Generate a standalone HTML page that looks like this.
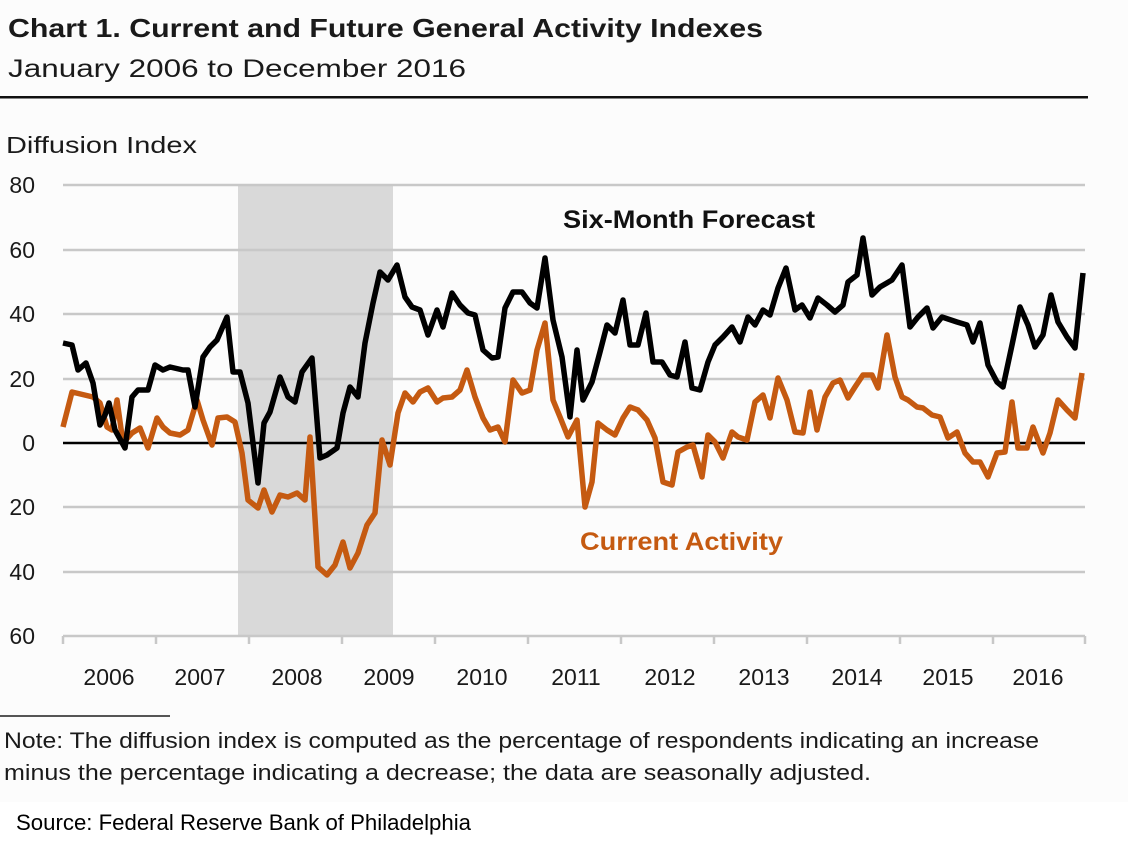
<!DOCTYPE html>
<html><head><meta charset="utf-8"><style>
html,body{margin:0;padding:0;background:#fff;}
svg{display:block;font-family:"Liberation Sans",Arial,sans-serif;}
</style></head><body>
<svg width="1143" height="853" viewBox="0 0 1143 853" xmlns="http://www.w3.org/2000/svg">
<rect x="0" y="0" width="1128" height="802" fill="#fcfcfc"/>
<text x="8" y="37" font-size="26" font-weight="bold" fill="#1a1a1a" textLength="755" lengthAdjust="spacingAndGlyphs">Chart 1. Current and Future General Activity Indexes</text>
<text x="8" y="77" font-size="25" fill="#1a1a1a" textLength="458" lengthAdjust="spacingAndGlyphs">January 2006 to December 2016</text>
<rect x="0" y="96" width="1088" height="2.5" fill="#111"/>
<text x="6" y="153" font-size="23" fill="#1a1a1a" textLength="191" lengthAdjust="spacingAndGlyphs">Diffusion Index</text>
<rect x="238" y="185" width="155" height="451" fill="#d9d9d9"/>
<g stroke="#c8c8c8" stroke-width="2.5">
<line x1="63" y1="185" x2="1085" y2="185"/><line x1="63" y1="250" x2="1085" y2="250"/>
<line x1="63" y1="314" x2="1085" y2="314"/><line x1="63" y1="379" x2="1085" y2="379"/>
<line x1="63" y1="507" x2="1085" y2="507"/><line x1="63" y1="572" x2="1085" y2="572"/>
<line x1="63" y1="636" x2="1085" y2="636"/>
<line x1="63" y1="636" x2="63" y2="644"/><line x1="156" y1="636" x2="156" y2="644"/>
<line x1="249" y1="636" x2="249" y2="644"/><line x1="342" y1="636" x2="342" y2="644"/>
<line x1="435" y1="636" x2="435" y2="644"/><line x1="528" y1="636" x2="528" y2="644"/>
<line x1="621" y1="636" x2="621" y2="644"/><line x1="714" y1="636" x2="714" y2="644"/>
<line x1="807" y1="636" x2="807" y2="644"/><line x1="900" y1="636" x2="900" y2="644"/>
<line x1="993" y1="636" x2="993" y2="644"/><line x1="1085" y1="636" x2="1085" y2="644"/>
</g>
<line x1="63" y1="443" x2="1085" y2="443" stroke="#000" stroke-width="2.5"/>
<g font-size="23" fill="#1a1a1a" text-anchor="end">
<text x="35" y="193">80</text><text x="35" y="258">60</text><text x="35" y="322">40</text>
<text x="35" y="387">20</text><text x="35" y="451">0</text><text x="35" y="515">20</text>
<text x="35" y="580">40</text><text x="35" y="644">60</text>
</g>
<g font-size="23" fill="#1a1a1a" text-anchor="middle">
<text x="109" y="685">2006</text><text x="200" y="685">2007</text><text x="297" y="685">2008</text>
<text x="389" y="685">2009</text><text x="482" y="685">2010</text><text x="576" y="685">2011</text>
<text x="670" y="685">2012</text><text x="764" y="685">2013</text><text x="857" y="685">2014</text>
<text x="948" y="685">2015</text><text x="1038" y="685">2016</text>
</g>
<polyline fill="none" stroke="#c55a11" stroke-width="5.5" stroke-linejoin="round" points="63,427 72,392 93,397 100,403 107,427 112,430 117,400 123,443 132,433 140,428 148,448 157,418 163,427 170,433 180,435 188,430 197,400 203,420 212,445 218,418 227,417 235,422 242,453 248,500 258,508 264,490 272,512 280,495 288,497 297,493 305,500 310,437 318,567 327,575 335,565 343,542 350,568 358,553 367,525 375,513 382,440 390,465 398,413 405,393 413,402 420,392 428,388 437,402 443,398 452,397 460,390 467,370 475,397 483,418 490,430 498,427 505,442 513,380 522,393 530,390 537,350 545,323 553,400 560,417 568,437 577,420 585,507 592,482 598,423 607,430 615,435 623,418 630,407 638,410 647,420 655,438 663,482 672,485 678,452 687,447 693,445 702,477 708,435 715,442 723,458 732,432 738,437 747,440 755,402 763,395 770,418 778,378 787,400 795,432 803,433 810,392 817,430 825,397 833,383 840,380 848,398 855,387 863,375 872,375 878,388 887,335 895,377 902,397 908,400 917,407 923,408 932,415 940,417 948,438 957,432 965,453 973,462 980,462 988,477 997,453 1005,452 1012,402 1018,448 1027,448 1033,427 1043,453 1050,433 1058,400 1067,410 1075,418 1082,373"/>
<polyline fill="none" stroke="#000" stroke-width="5.5" stroke-linejoin="round" points="63,343 72,345 78,370 86,363 93,383 100,425 105,415 109,403 115,430 125,448 132,397 138,390 148,390 155,365 163,370 170,367 183,370 188,370 195,407 203,357 210,347 217,340 227,317 233,372 240,372 248,403 258,483 264,423 270,412 280,377 288,397 295,402 302,372 312,358 320,458 327,455 337,448 343,413 350,387 358,397 365,343 373,303 380,272 388,280 397,265 405,297 412,307 420,310 428,335 437,310 443,327 452,293 460,305 468,313 475,315 483,350 492,358 498,357 505,308 513,292 522,292 530,303 537,308 545,258 553,320 562,357 570,417 577,350 583,400 592,382 600,352 607,325 615,333 623,300 630,345 638,345 646,313 653,362 662,362 670,375 677,377 685,342 692,388 700,390 708,362 715,345 723,337 732,327 740,342 748,317 755,325 763,310 770,315 778,288 786,268 795,310 802,305 810,318 818,298 827,305 835,312 843,305 848,282 857,275 863,238 872,295 880,287 892,280 902,265 910,327 918,317 927,308 933,328 942,317 957,322 967,325 973,342 980,323 988,365 997,382 1003,387 1012,345 1020,307 1028,325 1035,347 1043,335 1051,295 1058,322 1067,337 1075,348 1083,273"/>
<text x="563" y="228" font-size="25" font-weight="bold" fill="#111" textLength="252" lengthAdjust="spacingAndGlyphs">Six-Month Forecast</text>
<text x="580" y="550" font-size="25" font-weight="bold" fill="#c55a11" textLength="203" lengthAdjust="spacingAndGlyphs">Current Activity</text>
<rect x="0" y="715" width="170" height="2" fill="#555"/>
<text x="4" y="748" font-size="22" fill="#1a1a1a" textLength="1035" lengthAdjust="spacingAndGlyphs">Note: The diffusion index is computed as the percentage of respondents indicating an increase</text>
<text x="4" y="780" font-size="22" fill="#1a1a1a" textLength="867" lengthAdjust="spacingAndGlyphs">minus the percentage indicating a decrease; the data are seasonally adjusted.</text>
<text x="16" y="830" font-size="22" fill="#000" textLength="455" lengthAdjust="spacingAndGlyphs">Source: Federal Reserve Bank of Philadelphia</text>
</svg>
</body></html>
